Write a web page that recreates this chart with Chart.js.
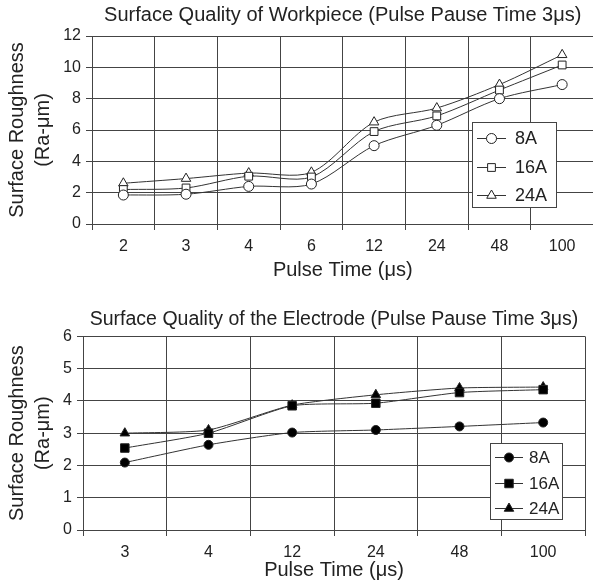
<!DOCTYPE html>
<html>
<head>
<meta charset="utf-8">
<script src="https://cdn.jsdelivr.net/npm/chart.js@4"></script>
<style>
  html, body { margin: 0; padding: 0; background: #fff; overflow: hidden; }
  #top { position: absolute; left: 0; top: 0; width: 600px; height: 290px; }
  #bottom { position: absolute; left: 0; top: 290px; width: 593px; height: 292px; }
</style>
</head>
<body>
<div id="top"><canvas id="workChart"></canvas></div>
<div id="bottom"><canvas id="electrodeChart"></canvas></div>
<script>
// top chart: workpiece
const workTimes = ["2", "3", "4", "6", "12", "24", "48", "100"];
const work8A = [1.85, 1.9, 2.4, 2.55, 5.0, 6.3, 8.0, 8.9];
const work16A = [2.2, 2.3, 3.05, 3.0, 5.9, 6.9, 8.55, 10.15];
const work24A = [2.6, 2.9, 3.25, 3.3, 6.5, 7.4, 8.9, 10.8];
const workTicks = [0, 2, 4, 6, 8, 10, 12];

// bottom chart: electrode
const elecTimes = ["3", "4", "12", "24", "48", "100"];
const elec8A = [2.09, 2.64, 3.02, 3.1, 3.21, 3.33];
const elec16A = [2.54, 3.0, 3.85, 3.93, 4.26, 4.35];
const elec24A = [3.0, 3.1, 3.87, 4.19, 4.4, 4.43];
const elecTicks = [0, 1, 2, 3, 4, 5, 6];

const FONT = "'Liberation Sans', Arial, sans-serif";
const INK = "#222";
const GRID = "#444";

// legend drawn inside the plot, in a framed box
const boxLegend = {
  id: "boxLegend",
  afterDraw(chart, args, opts) {
    const ctx = chart.ctx;
    const x = opts.x, y = opts.y, w = opts.w, h = opts.h;
    ctx.save();
    ctx.fillStyle = "#fff";
    ctx.fillRect(x, y, w, h);
    ctx.strokeStyle = "#444";
    ctx.lineWidth = 1;
    ctx.strokeRect(x + 0.5, y + 0.5, w, h);
    ctx.font = opts.size + "px " + FONT;
    ctx.textBaseline = "middle";
    chart.data.datasets.forEach((ds, i) => {
      const cy = Math.round(y + opts.first + i * opts.step) + 0.5;
      const lx = x + opts.lineX;
      ctx.strokeStyle = "#333";
      ctx.lineWidth = 1;
      ctx.beginPath();
      ctx.moveTo(lx, cy);
      ctx.lineTo(lx + opts.lineW, cy);
      ctx.stroke();
      ctx.fillStyle = ds.pointBackgroundColor;
      ctx.strokeStyle = "#222";
      Chart.helpers.drawPoint(ctx, {
        pointStyle: ds.pointStyle,
        radius: ds.pointRadius,
        borderWidth: 1
      }, lx + opts.lineW / 2, cy);
      ctx.fillStyle = INK;
      ctx.fillText(ds.label, lx + opts.lineW + opts.gap, cy + 1);
    });
    ctx.restore();
  }
};

function series(label, data, style, radius, fill, tension) {
  return {
    label: label,
    data: data,
    borderColor: "#333",
    borderWidth: 1,
    tension: tension,
    pointStyle: style,
    pointRadius: radius,
    pointHoverRadius: radius,
    pointBackgroundColor: fill,
    pointBorderColor: "#222",
    pointBorderWidth: 1
  };
}

function makeOptions(cfg) {
  return {
    responsive: true,
    maintainAspectRatio: false,
    animation: false,
    layout: { padding: { left: 0, right: cfg.right, top: 0, bottom: 0 } },
    plugins: {
      legend: { display: false },
      tooltip: { enabled: false },
      title: {
        display: true,
        fullSize: false,
        text: cfg.title,
        color: INK,
        font: { family: FONT, size: cfg.titleSize, weight: "normal", lineHeight: 1.2 },
        padding: { top: cfg.titleTop, bottom: cfg.titleBottom }
      },
      boxLegend: cfg.legend
    },
    scales: {
      x: {
        offset: true,
        grid: { offset: true, color: GRID, lineWidth: 1, tickLength: 6 },
        border: { color: GRID },
        ticks: { color: INK, font: { family: FONT, size: 16 }, padding: 7 },
        title: {
          display: true,
          text: "Pulse Time (μs)",
          color: INK,
          font: { family: FONT, size: 20, lineHeight: 1.2 },
          padding: { top: cfg.xTitlePad, bottom: cfg.xTitlePad }
        },
        afterFit: (s) => { s.height = cfg.xHeight; }
      },
      y: {
        min: cfg.ticks[0],
        max: cfg.ticks[cfg.ticks.length - 1],
        afterBuildTicks: (s) => { s.ticks = cfg.ticks.map((v) => ({ value: v })); },
        grid: { color: GRID, lineWidth: 1, tickLength: 6 },
        border: { color: GRID },
        ticks: { color: INK, font: { family: FONT, size: 16 }, padding: 5 },
        title: {
          display: true,
          text: ["Surface Roughness", "(Ra-μm)"],
          color: INK,
          font: { family: FONT, size: 20, lineHeight: 1.3 },
          padding: { top: 4, bottom: 0 }
        },
        afterFit: (s) => { s.width = cfg.yWidth; }
      }
    }
  };
}

new Chart(document.getElementById("workChart"), {
  type: "line",
  data: {
    labels: workTimes,
    datasets: [
      series("8A", work8A, "circle", 5, "#fff", 0.3),
      series("16A", work16A, "rect", 5.5, "#fff", 0.3),
      series("24A", work24A, "triangle", 5.5, "#fff", 0.3)
    ]
  },
  options: makeOptions({
    title: "Surface Quality of Workpiece (Pulse Pause Time 3μs)",
    titleSize: 20, right: 6, titleTop: 3, titleBottom: 9, xHeight: 66, yWidth: 92, xTitlePad: 8,
    ticks: workTicks,
    legend: { x: 472, y: 122, w: 84, h: 85, first: 16, step: 28.5, lineX: 5, lineW: 29, gap: 9, size: 18 }
  }),
  plugins: [boxLegend]
});

new Chart(document.getElementById("electrodeChart"), {
  type: "line",
  data: {
    labels: elecTimes,
    datasets: [
      series("8A", elec8A, "circle", 4.5, "#000", 0.2),
      series("16A", elec16A, "rect", 6, "#000", 0.2),
      series("24A", elec24A, "triangle", 5.5, "#000", 0.2)
    ]
  },
  options: makeOptions({
    title: "Surface Quality of the Electrode (Pulse Pause Time 3μs)",
    titleSize: 19.5, right: 8, titleTop: 18, titleBottom: 5, xHeight: 52, yWidth: 83, xTitlePad: 0,
    ticks: elecTicks,
    legend: { x: 490, y: 153, w: 72, h: 76, first: 14, step: 25.5, lineX: 5, lineW: 28, gap: 6, size: 17 }
  }),
  plugins: [boxLegend]
});
</script>
</body>
</html>
